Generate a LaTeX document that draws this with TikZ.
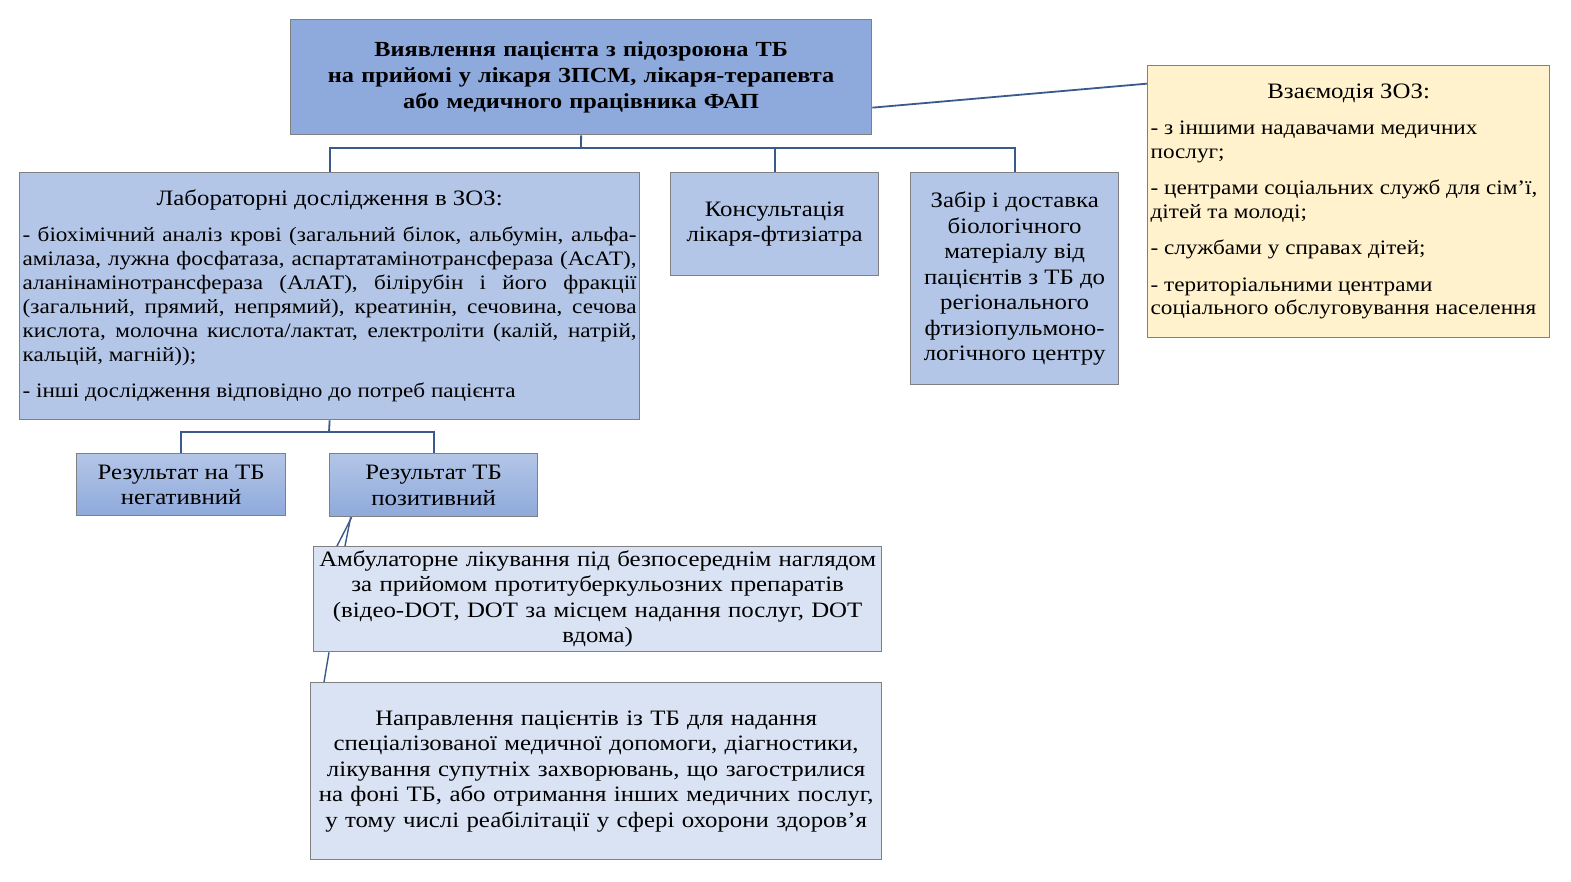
\documentclass[tikz,border=0pt]{standalone}
\usepackage{fontspec}
\setmainfont{Liberation Serif}[FakeStretch=1.13]
\usetikzlibrary{calc}
\definecolor{topblue}{HTML}{8EA9DB}
\definecolor{labblue}{HTML}{B4C6E7}
\definecolor{lightblue}{HTML}{DAE3F3}
\definecolor{yellowbg}{HTML}{FFF2CC}
\definecolor{bordergray}{HTML}{808080}
\definecolor{conncol}{HTML}{3A5A8C}
\newcommand\jl[1]{\makebox[\linewidth][s]{#1}}
\newcommand\ttlsize{\fontsize{22}{25}\selectfont}
\begin{document}
\begin{tikzpicture}[x=1pt,y=-1pt]
\tikzset{
  bx/.style={draw=bordergray, line width=1.3pt, inner sep=2pt, anchor=north west, align=center, font=\fontsize{22}{25.5}\selectfont},
  conn/.style={draw=conncol, line width=1.8pt},
  resbox/.style={bx, top color=labblue, bottom color=topblue, minimum height=62pt, minimum width=209pt}
}
\fill[white] (0,0) rectangle (1571,881);
\useasboundingbox (0,0) rectangle (1571,881);

\node[bx, fill=topblue, minimum width=581pt, minimum height=115pt, text width=575pt,
  font=\bfseries\fontsize{21.5}{26}\selectfont] (top) at (290,19)
  {Виявлення пацієнта з підозроюна ТБ\\на прийомі у лікаря ЗПСМ, лікаря-терапевта\\або медичного працівника ФАП};

\node[bx, fill=labblue, minimum width=620pt, minimum height=247pt, font=\fontsize{20.5}{24}\selectfont] (lab) at (19,172)
{\begin{minipage}{614pt}\setlength\parskip{12pt}\setlength\parindent{0pt}%
{\centering\ttlsize Лабораторні дослідження в ЗОЗ:\par}
\jl{- біохімічний аналіз крові (загальний білок, альбумін, альфа-}\\
\jl{амілаза, лужна фосфатаза, аспартатамінотрансфераза (АсАТ),}\\
\jl{аланінамінотрансфераза (АлАТ), білірубін і його фракції}\\
\jl{(загальний, прямий, непрямий), креатинін, сечовина, сечова}\\
\jl{кислота, молочна кислота/лактат, електроліти (калій, натрій,}\\
кальцій, магній));\par
- інші дослідження відповідно до потреб пацієнта\par
\end{minipage}};

\node[bx, fill=labblue, minimum width=208pt, minimum height=103pt] (consult) at (670,172)
  {Консультація\\лікаря-фтизіатра};

\node[bx, fill=labblue, minimum width=208pt, minimum height=212pt] (zabir) at (910,172)
  {Забір і доставка\\біологічного\\матеріалу від\\пацієнтів з ТБ до\\регіонального\\фтизіопульмоно-\\логічного центру};

\node[bx, fill=yellowbg, minimum width=402pt, minimum height=272pt, font=\fontsize{20.5}{23.5}\selectfont] (right) at (1147,65)
{\begin{minipage}{396pt}\raggedright\setlength\parskip{13pt}%
{\centering\ttlsize Взаємодія ЗОЗ:\par}
- з іншими надавачами медичних\\послуг;\par
- центрами соціальних служб для сім’ї,\\дітей та молоді;\par
- службами у справах дітей;\par
- територіальними центрами\\соціального обслуговування населення\par
\end{minipage}};

\node[resbox] (neg) at (76,453) {Результат на ТБ\\негативний};
\node[resbox, minimum width=208pt, minimum height=63pt] (pos) at (329,453) {Результат ТБ\\позитивний};

\node[bx, fill=lightblue, minimum width=568pt, minimum height=105pt, text width=562pt] (amb) at (313,546)
  {Амбулаторне лікування під безпосереднім наглядом\\за прийомом протитуберкульозних препаратів\\(відео-DOT, DOT за місцем надання послуг, DOT\\вдома)};

\node[bx, fill=lightblue, minimum width=571pt, minimum height=177pt, text width=565pt] (napr) at (310,682)
  {Направлення пацієнтів із ТБ для надання\\спеціалізованої медичної допомоги, діагностики,\\лікування супутніх захворювань, що загострилися\\на фоні ТБ, або отримання інших медичних послуг,\\у тому числі реабілітації у сфері охорони здоров’я};

% connectors
\coordinate (bus) at (581,148);
\draw[conn] (top.south) -- (bus);
\draw[conn] (lab.north) |- (bus) -| (zabir.north);
\draw[conn] (consult.north) -- (consult.north |- bus);
\coordinate (bus2) at (329,432);
\draw[conn] (lab.south) -- (bus2);
\draw[conn] (neg.north) |- (bus2) -| (pos.north);
\draw[conn] ([yshift=-30.5pt]top.east) -- ([yshift=118pt]right.west);
\draw[conn, line width=1.4pt] ([xshift=-82pt]pos.south) -- ([xshift=24pt]amb.north west);
\draw[conn, line width=1.4pt] ([xshift=-83pt]pos.south) -- ([xshift=32pt]amb.north west);
\draw[conn, line width=1.4pt] ([xshift=16pt]amb.south west) -- ([xshift=14pt]napr.north west);
\end{tikzpicture}
\end{document}
